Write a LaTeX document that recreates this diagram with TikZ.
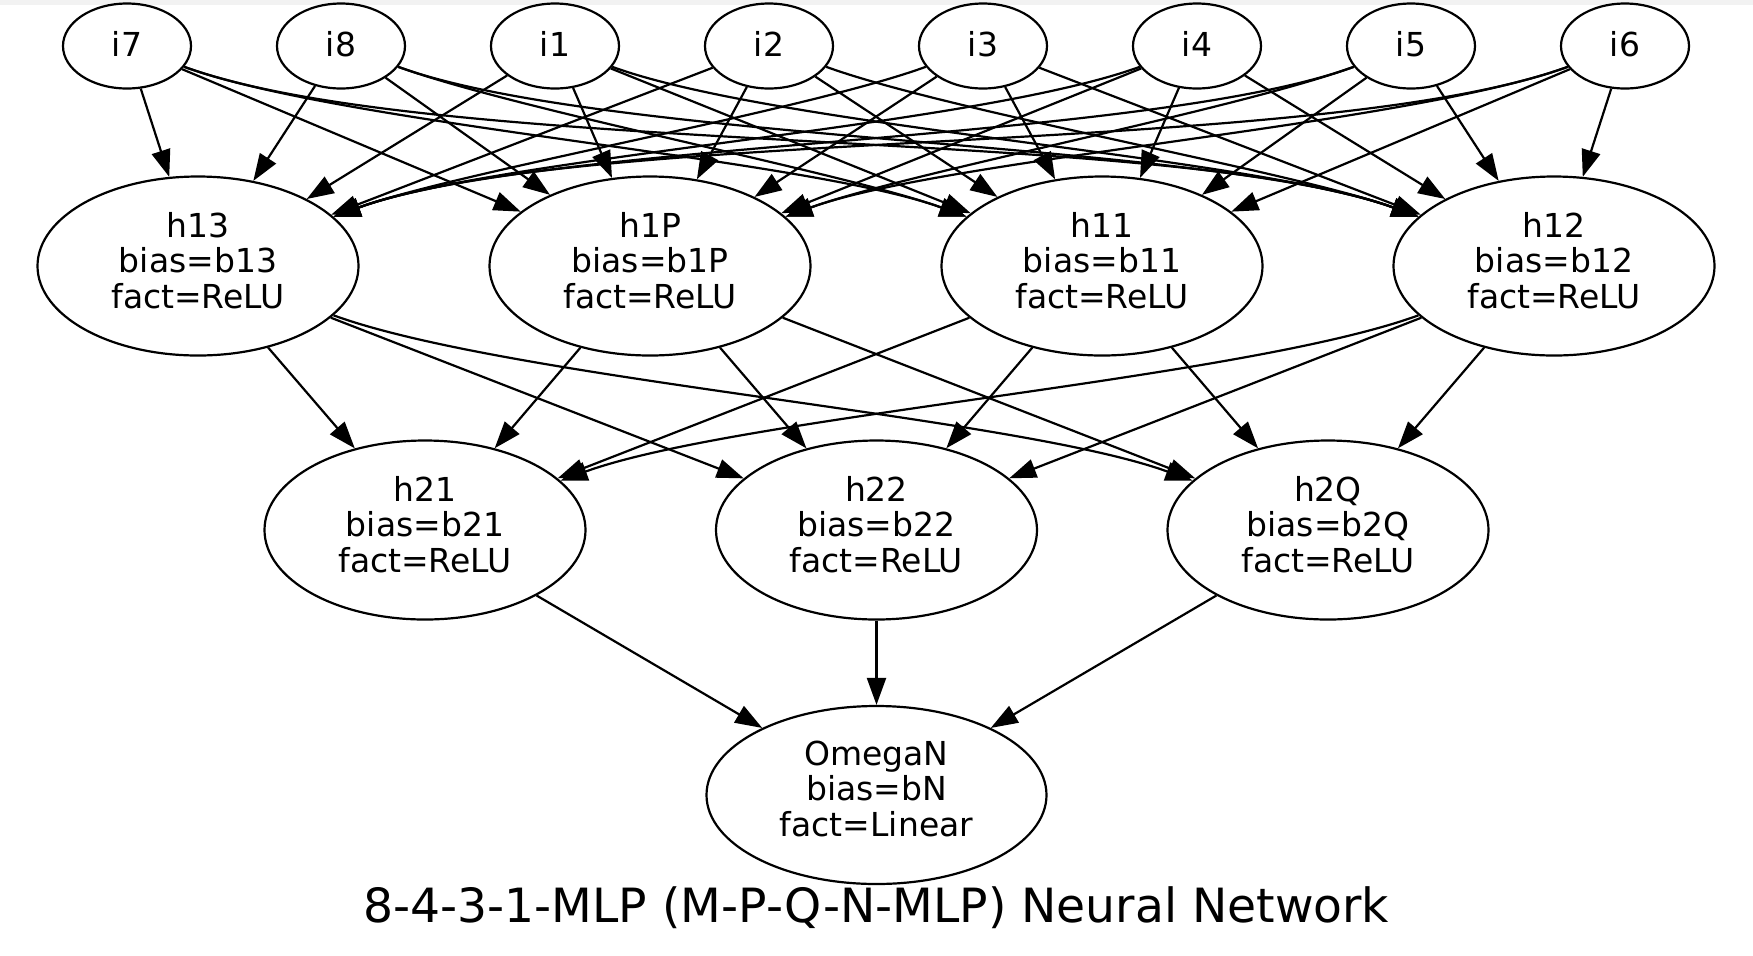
\documentclass[tikz,border=0pt]{standalone}
\usepackage{fontspec}
\setmainfont{DejaVu Sans}
\usetikzlibrary{arrows.meta,shapes.geometric}

\begin{document}
\begin{tikzpicture}[x=0.5pt,y=0.5pt,
  line width=1.1pt,
  >={Triangle[length=13.5pt,width=9.5pt]},
  innode/.style={draw, ellipse, inner sep=0pt, minimum width=64pt, minimum height=42.5pt,
    text depth=2.2pt, font=\fontsize{16.5}{17.9}\selectfont},
  hnode/.style={draw, ellipse, inner sep=0pt, minimum width=160.5pt, minimum height=89.5pt,
    align=center, text depth=5.6pt, font=\fontsize{16.5}{17.9}\selectfont},
  rcurve/.style={out=-20,in=160,looseness=0.55},
  lcurve/.style={out=200,in=20,looseness=0.55}]
\useasboundingbox (0,0) rectangle (1753,-955);
\fill[black!5] (0,0) rectangle (1753,-5);

% inputs
\node[innode] (i7) at (127,-46) {i7};
\node[innode] (i8) at (341,-46) {i8};
\node[innode] (i1) at (555,-46) {i1};
\node[innode] (i2) at (769,-46) {i2};
\node[innode] (i3) at (983,-46) {i3};
\node[innode] (i4) at (1197,-46) {i4};
\node[innode] (i5) at (1411,-46) {i5};
\node[innode] (i6) at (1625,-46) {i6};

% first hidden layer
\node[hnode] (h13) at (198,-266) {h13\\bias=b13\\fact=ReLU};
\node[hnode] (h1P) at (650,-266) {h1P\\bias=b1P\\fact=ReLU};
\node[hnode] (h11) at (1102,-266) {h11\\bias=b11\\fact=ReLU};
\node[hnode] (h12) at (1554,-266) {h12\\bias=b12\\fact=ReLU};

% second hidden layer
\node[hnode] (h21) at (425,-530) {h21\\bias=b21\\fact=ReLU};
\node[hnode] (h22) at (876.5,-530) {h22\\bias=b22\\fact=ReLU};
\node[hnode] (h2Q) at (1328,-530) {h2Q\\bias=b2Q\\fact=ReLU};

% output
\node[hnode, minimum width=170pt, minimum height=89pt, text depth=6.4pt] (omega) at (876.5,-795) {OmegaN\\bias=bN\\fact=Linear};

\node[font=\fontsize{23.6}{28}\selectfont] (title) at (876.5,-908) {8-4-3-1-MLP (M-P-Q-N-MLP) Neural Network};

% inputs -> h13
\draw[->] (i7) -- (h13);
\draw[->] (i8) -- (h13);
\draw[->] (i1) -- (h13);
\draw[->] (i2) -- (h13);
\draw[->] (i3) to[lcurve] (h13);
\draw[->] (i4) to[lcurve] (h13);
\draw[->] (i5) to[lcurve] (h13);
\draw[->] (i6) to[lcurve] (h13);
% inputs -> h1P
\draw[->] (i7) -- (h1P);
\draw[->] (i8) -- (h1P);
\draw[->] (i1) -- (h1P);
\draw[->] (i2) -- (h1P);
\draw[->] (i3) -- (h1P);
\draw[->] (i4) -- (h1P);
\draw[->] (i5) to[lcurve] (h1P);
\draw[->] (i6) to[lcurve] (h1P);
% inputs -> h11
\draw[->] (i7) to[rcurve] (h11);
\draw[->] (i8) to[rcurve] (h11);
\draw[->] (i1) -- (h11);
\draw[->] (i2) -- (h11);
\draw[->] (i3) -- (h11);
\draw[->] (i4) -- (h11);
\draw[->] (i5) -- (h11);
\draw[->] (i6) -- (h11);
% inputs -> h12
\draw[->] (i7) to[rcurve] (h12);
\draw[->] (i8) to[rcurve] (h12);
\draw[->] (i1) to[rcurve] (h12);
\draw[->] (i2) to[rcurve] (h12);
\draw[->] (i3) -- (h12);
\draw[->] (i4) -- (h12);
\draw[->] (i5) -- (h12);
\draw[->] (i6) -- (h12);

% first -> second hidden layer
\draw[->] (h13) -- (h21);
\draw[->] (h13) -- (h22);
\draw[->] (h13) to[rcurve] (h2Q);
\draw[->] (h1P) -- (h21);
\draw[->] (h1P) -- (h22);
\draw[->] (h1P) -- (h2Q);
\draw[->] (h11) -- (h21);
\draw[->] (h11) -- (h22);
\draw[->] (h11) -- (h2Q);
\draw[->] (h12) to[lcurve] (h21);
\draw[->] (h12) -- (h22);
\draw[->] (h12) -- (h2Q);

% second hidden layer -> output
\draw[->] (h21) -- (omega);
\draw[->] (h22) -- (omega);
\draw[->] (h2Q) -- (omega);
\end{tikzpicture}
\end{document}
